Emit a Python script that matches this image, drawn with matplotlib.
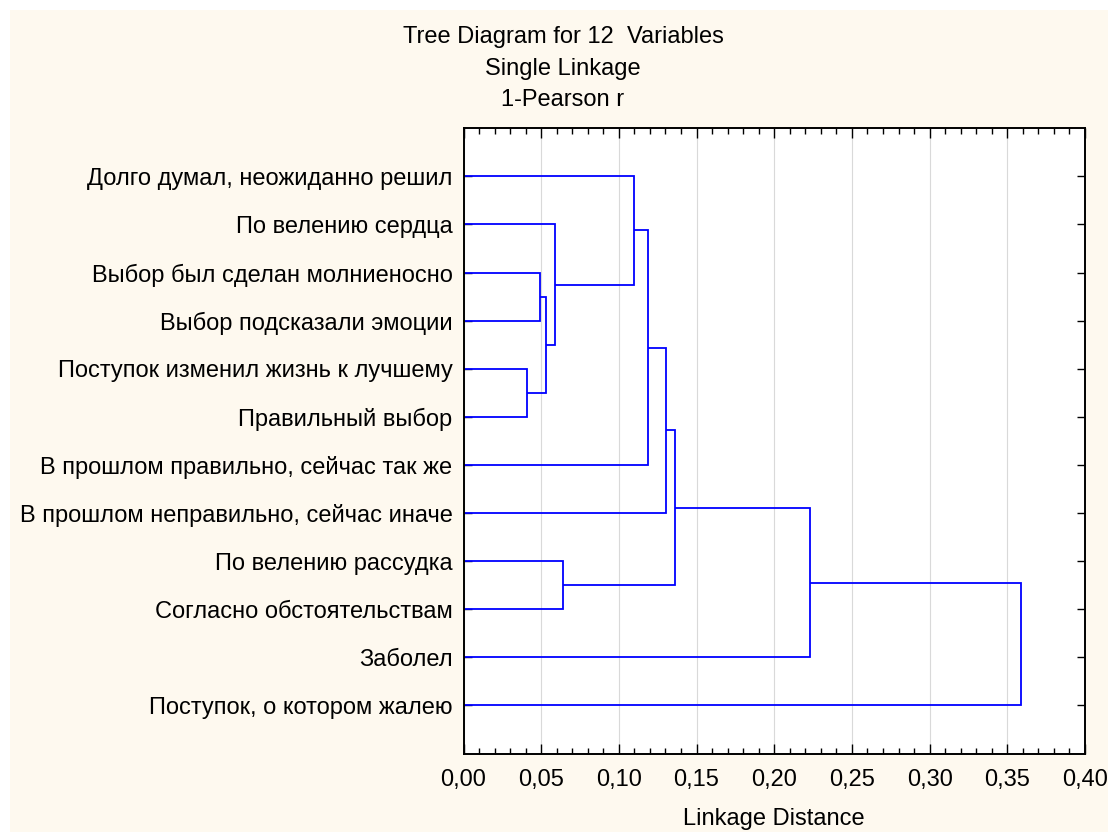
import matplotlib
matplotlib.use("Agg")
import matplotlib.pyplot as plt
from matplotlib.patches import Rectangle
from matplotlib.ticker import MultipleLocator, FuncFormatter

plt.rcParams['font.family'] = ['Liberation Sans', 'DejaVu Sans']

# подписи переменных (сверху вниз)
labels = [
    "Долго думал, неожиданно решил",
    "По велению сердца",
    "Выбор был сделан молниеносно",
    "Выбор подсказали эмоции",
    "Поступок изменил жизнь к лучшему",
    "Правильный выбор",
    "В прошлом правильно, сейчас так же",
    "В прошлом неправильно, сейчас иначе",
    "По велению рассудка",
    "Согласно обстоятельствам",
    "Заболел",
    "Поступок, о котором жалею",
]

# шаги объединения: (левый кластер, правый кластер, расстояние)
# номера 0..11 - листья, 12.. - новые кластеры по порядку
merge_left = [4, 2, 13, 1, 0, 16, 17, 8, 18, 20, 21]
merge_right = [5, 3, 12, 14, 15, 6, 7, 9, 19, 10, 11]
merge_dist = [0.041, 0.049, 0.053, 0.059, 0.110, 0.119, 0.1305, 0.064, 0.136, 0.223, 0.359]

title_lines = ["Tree Diagram for 12  Variables", "Single Linkage", "1-Pearson r"]
x_label = "Linkage Distance"

W, H = 1108, 832
FS = 17
fig = plt.figure(figsize=(W / 100, H / 100), dpi=100, facecolor='white')
fig.patches.append(Rectangle((10 / W, 0), 1, 1 - 10 / H, transform=fig.transFigure,
                             facecolor='#fef9ef', edgecolor='none', zorder=-10))

ax = fig.add_axes([463.5 / W, 1 - 753.5 / H, (1085 - 463.5) / W, (753.5 - 128.3) / H])
ax.set_facecolor('white')

n = len(labels)
ypos = {i: i + 1 for i in range(n)}
height = {i: 0.0 for i in range(n)}
line_kw = dict(color='#0000ff', lw=1.3, solid_capstyle='butt', solid_joinstyle='miter')
for k, (a, b, d) in enumerate(zip(merge_left, merge_right, merge_dist)):
    ya, yb = ypos[a], ypos[b]
    ax.plot([height[a], d, d, height[b]], [ya, ya, yb, yb], **line_kw)
    ypos[n + k] = (ya + yb) / 2
    height[n + k] = d

ax.set_xlim(0, 0.40)
ax.set_ylim(n + 1, 0)
ax.xaxis.set_major_locator(MultipleLocator(0.05))
ax.xaxis.set_minor_locator(MultipleLocator(0.01))
ax.xaxis.set_major_formatter(FuncFormatter(lambda v, p: f"{v:.2f}".replace('.', ',')))
ax.set_yticks(range(1, n + 1))
ax.set_yticklabels(labels)
ax.grid(axis='x', which='major', color='#d9d9d9', lw=0.8)
ax.set_axisbelow(True)

ax.tick_params(axis='x', which='major', direction='in', length=7, width=1, top=True,
               labelsize=FS, pad=11)
ax.tick_params(axis='x', which='minor', direction='in', length=4, width=1, top=True)
ax.tick_params(axis='y', which='major', direction='in', length=6, width=1, right=True,
               labelsize=FS, pad=8)
for s in ax.spines.values():
    s.set_linewidth(1.4)

for i, t in enumerate(title_lines):
    fig.text(563 / W, 1 - (37 + 31.5 * i) / H, t, ha='center', va='center', fontsize=FS)
fig.text(774 / W, 1 - 819 / H, x_label, ha='center', va='center', fontsize=FS)

fig.savefig('out.png', dpi=100, facecolor=fig.get_facecolor())
